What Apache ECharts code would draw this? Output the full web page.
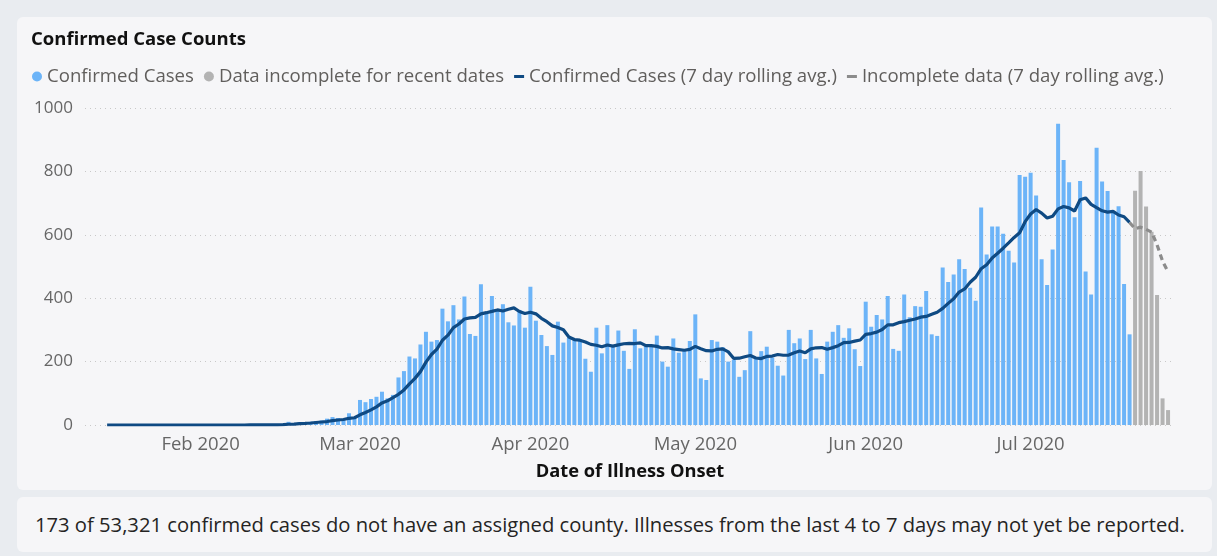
<!DOCTYPE html>
<html><head><meta charset="utf-8">
<script src="https://cdn.jsdelivr.net/npm/echarts@6/dist/echarts.min.js"></script>
<style>
html,body{margin:0;padding:0;width:1217px;height:556px;overflow:hidden;background:#e9ecf0;font-family:"Segoe UI","Open Sans",sans-serif;}
#card1{position:absolute;left:17px;top:17px;width:1195px;height:473px;background:#f6f6f8;border-radius:6px;}
#card2{position:absolute;left:17px;top:497px;width:1195px;height:55px;background:#f6f6f8;border-radius:6px;}
#note{position:absolute;left:35px;top:510px;font-size:20.2px;color:#252423;white-space:nowrap;font-family:"Segoe UI","Open Sans",sans-serif;}
#chart{position:absolute;left:0;top:0;width:1217px;height:556px;}
</style></head>
<body>
<div id="card1"></div><div id="card2"></div>
<div id="note">173 of 53,321 confirmed cases do not have an assigned county. Illnesses from the last 4 to 7 days may not yet be reported.</div>
<div id="chart"></div>
<script>
// first date of the series: 2020-01-15 (one value per day)
const startYear = 2020, startMonth = 0, startDay = 15;

// Jan 15 .. Jul 19
const confirmedCases = [
  0,0,0,0,0,0,0,0,0,0,0,0,0,0,0,0,0,
  0,0,0,0,0,0,0,0,0,1,0,0,1,0,2,3,10,5,8,7,10,12,14,20,25,22,18,37,24,
  79,72,82,89,105,84,95,150,170,216,210,254,294,263,268,367,327,378,333,405,287,281,444,352,407,365,381,324,314,363,307,
  436,329,284,249,221,326,260,275,272,270,209,168,307,226,315,247,298,234,177,302,242,252,247,282,200,184,273,228,237,265,
  349,147,142,268,263,245,200,205,152,173,296,208,233,247,213,187,156,300,258,273,208,300,210,161,263,294,315,275,305,239,186,
  389,310,347,333,407,240,234,412,340,375,373,423,286,281,497,451,475,523,492,433,392,686,538,626,626,603,550,513,789,783,
  796,724,523,442,554,950,836,766,655,770,484,412,875,768,738,670,690,445,286
];
// Jul 20 .. Jul 26
const incompleteCases = [739,801,689,610,410,84,47];

// Jan 15 .. Jul 19
const rollingAvg = [
  0,0,0,0,0,0,0,0,0,0,0,0,0,0,0,0,0,
  0,0,0,0,0,0,0,0,0,0.1,0.1,0.1,0.3,0.3,0.6,1.0,2.3,3.0,4.1,5.0,6.4,7.9,9.4,10.9,13.7,15.7,17.3,21.1,22.9,
  32.1,39.6,47.7,57.3,69.7,76.4,86.6,96.7,110.7,129.9,147.1,168.4,198.4,222.4,239.3,267.4,283.3,307.3,318.6,334.4,337.9,339.7,350.7,354.3,358.4,363,359.6,364.9,369.6,358,351.6,
  355.7,350.6,336.7,326,312.7,307.4,300.7,277.7,269.6,267.6,261.9,254.3,251.6,246.7,252.4,248.9,252.9,256.4,257.7,257,259.3,250.3,250.3,248,243.1,244.1,240,238,235.9,238.4,
  248,240.4,234.4,233.7,238.7,239.9,230.6,210,210.7,215.1,219.1,211.3,209.6,216.3,217.4,222.4,220,220.6,227.7,233.4,227.9,240.3,243.6,244.3,239,244.1,250.1,259.7,260.4,264.6,268.1,
  286.1,288.4,293,301.3,315.9,316,322.9,326.1,330.4,334.4,340.1,342.4,349,355.7,367.9,383.7,398,419.4,429.3,450.3,466.1,493.1,505.6,527.1,541.9,557.7,574.4,591.7,606.4,641.4,
  665.7,679.7,668.3,652.9,658.7,681.7,689.3,685,675.1,710.4,716.4,696.1,685.4,675.7,671.7,673.9,662.4,656.9,638.9
];
// Jul 19 .. Jul 26
const incompleteRollingAvg = [638.9,619.4,624.1,617.1,608.6,568.6,517,482.9];

const monthLabels = ['Jan 2020','Feb 2020','Mar 2020','Apr 2020','May 2020','Jun 2020','Jul 2020','Aug 2020'];
const yTicks = [0,200,400,600,800,1000];

const dayTs = i => new Date(startYear, startMonth, startDay + i).getTime();
const DAY = 86400000;
const feb1 = new Date(2020, 1, 1).getTime();

const blueData = confirmedCases.map((v,i)=>[dayTs(i), v]);
const greyData = incompleteCases.map((v,i)=>[dayTs(confirmedCases.length + i), v]);
const avgData = rollingAvg.map((v,i)=>[dayTs(i), v]);
const avgIncData = incompleteRollingAvg.map((v,i)=>[dayTs(confirmedCases.length - 1 + i), v]);

const FONT = '"Segoe UI","Open Sans",sans-serif';
const DASH_ICON = 'path://M0,0L0,0Z M0,3.6L10,3.6L10,6.6L0,6.6Z M0,10L0,10Z';
const chart = echarts.init(document.getElementById('chart'), null, {renderer:'canvas'});
chart.setOption({
  animation:false,
  backgroundColor:'transparent',
  textStyle:{fontFamily:FONT},
  title:{text:'Confirmed Case Counts',left:26,top:25,
    textStyle:{fontSize:18.5,fontWeight:'bold',color:'#111',fontFamily:FONT}},
  legend:{left:27,top:62,itemWidth:10,itemHeight:10,itemGap:10,
    textStyle:{fontSize:18.6,color:'#605e5c',fontFamily:FONT},
    data:[
      {name:'Confirmed Cases',icon:'circle'},
      {name:'Data incomplete for recent dates',icon:'circle'},
      {name:'Confirmed Cases (7 day rolling avg.)',icon:DASH_ICON},
      {name:'Incomplete data (7 day rolling avg.)',icon:DASH_ICON}
    ]},
  grid:{left:85,right:42,top:108,bottom:131,containLabel:false},
  xAxis:{type:'time',min:feb1 - 20.66*DAY,max:feb1 + 176.9*DAY,
    axisLine:{show:false},axisTick:{show:false},splitLine:{show:false},
    axisLabel:{fontSize:18.5,color:'#666',margin:10,fontFamily:FONT,hideOverlap:false,
      showMinLabel:false,showMaxLabel:false,
      formatter:function(v){const d=new Date(v);return d.getDate()===1 && d.getHours()===0 ? monthLabels[d.getMonth()] : '';}},
    name:'Date of Illness Onset',nameLocation:'middle',nameGap:38,
    nameTextStyle:{fontSize:18.3,fontWeight:'bold',color:'#111',fontFamily:FONT}},
  yAxis:{type:'value',min:yTicks[0],max:yTicks[yTicks.length-1],interval:200,
    axisLine:{show:false},axisTick:{show:false},
    axisLabel:{fontSize:17,color:'#666',margin:12,fontFamily:FONT,formatter:v=>String(v)},
    splitLine:{show:true,lineStyle:{color:'#c8c8c8',type:[1,4],width:1}}},
  series:[
    {name:'Confirmed Cases',type:'bar',data:blueData,barWidth:4,barGap:'-100%',
      itemStyle:{color:'#6cb4f8'}},
    {name:'Data incomplete for recent dates',type:'bar',data:greyData,barWidth:4,barGap:'-100%',
      itemStyle:{color:'#b3b3b3'}},
    {name:'Confirmed Cases (7 day rolling avg.)',type:'line',data:avgData,symbol:'none',z:5,
      itemStyle:{color:'#0f4a83'},lineStyle:{width:3.2,color:'#0f4a83'}},
    {name:'Incomplete data (7 day rolling avg.)',type:'line',data:avgIncData,symbol:'none',z:5,
      itemStyle:{color:'#8c8c8c'},lineStyle:{width:3.2,color:'#8c8c8c',type:[6,4]}}
  ]
});
</script>
</body></html>
